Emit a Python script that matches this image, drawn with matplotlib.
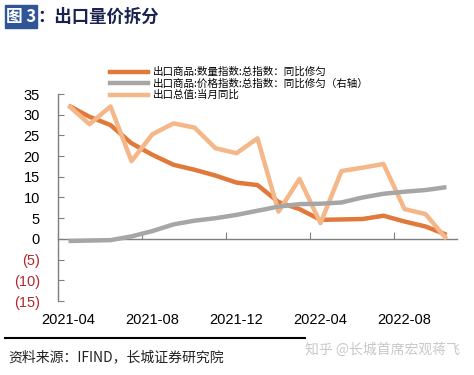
import matplotlib.pyplot as plt
from matplotlib.lines import Line2D
from matplotlib.patches import Rectangle

plt.rcParams['font.family'] = ['Liberation Sans', 'Noto Sans CJK SC', 'DejaVu Sans']

months = ['2021-04', '2021-05', '2021-06', '2021-07', '2021-08', '2021-09', '2021-10',
          '2021-11', '2021-12', '2022-01', '2022-02', '2022-03', '2022-04', '2022-05',
          '2022-06', '2022-07', '2022-08', '2022-09', '2022-10']
# 出口商品:数量指数
volume = [32.2, 29.5, 27.5, 23.1, 20.3, 17.9, 16.7, 15.3, 13.6, 13.0, 8.9, 7.2,
          4.6, 4.7, 4.8, 5.6, 4.2, 3.0, 1.0]
# 出口商品:价格指数 (右轴)
price = [-0.5, -0.4, -0.3, 0.6, 1.9, 3.5, 4.4, 5.0, 5.8, 6.8, 7.8, 8.4,
         8.5, 8.8, 10.0, 10.9, 11.4, 11.8, 12.5]
# 出口总值:当月同比
total = [32.2, 27.7, 32.0, 18.8, 25.3, 27.9, 26.9, 21.9, 20.7, 24.3, 6.6, 14.5,
         3.8, 16.4, 17.2, 18.1, 7.2, 6.0, 0.0]

labels = ['出口商品:数量指数:总指数：同比修匀',
          '出口商品:价格指数:总指数：同比修匀（右轴）',
          '出口总值:当月同比']
yticks = [35, 30, 25, 20, 15, 10, 5, 0, -5, -10, -15]

fig = plt.figure(figsize=(4.74, 3.75), dpi=100)
ax = fig.add_axes([58 / 474, 1 - 301 / 375, 399 / 474, 207 / 375])

x = list(range(len(months)))
c_vol = '#E0793A'
c_price = '#A6A6A6'
c_total = '#F5B688'
ax.plot(x, volume, color=c_vol, lw=3.2, solid_capstyle='butt', zorder=3)
ax.plot(x, total, color=c_total, lw=3.2, solid_capstyle='butt', zorder=4)
ax.plot(x, price, color=c_price, lw=3.2, solid_capstyle='butt', zorder=5)

ax.set_xlim(-0.5, len(months) - 0.5)
ax.set_ylim(-15, 35)
for s in ['top', 'right', 'bottom']:
    ax.spines[s].set_visible(False)
ax.spines['left'].set_color('#7f7f7f')
ax.spines['left'].set_linewidth(1)

ax.set_yticks(yticks)
ax.set_yticklabels([str(v) if v >= 0 else '(%d)' % -v for v in yticks], fontsize=10.5)
for t, v in zip(ax.get_yticklabels(), yticks):
    if v < 0:
        t.set_color('#B3282D')
ax.tick_params(axis='y', direction='in', length=4, color='#7f7f7f', pad=13)

ax.set_xticks(x[::4])
ax.set_xticklabels(months[::4], fontsize=10.5)
ax.tick_params(axis='x', length=0, pad=9)

# zero line axis with tick marks at category boundaries
sec = ax.secondary_xaxis(0, transform=ax.transData)
sec.spines['bottom'].set_color('#7f7f7f')
sec.spines['bottom'].set_linewidth(1)
sec.set_xticks([i - 0.5 for i in x[::4]])
sec.set_xticklabels([])
sec.tick_params(axis='x', direction='in', length=5, color='#7f7f7f')

handles = [Line2D([], [], color=c_vol, lw=3.2),
           Line2D([], [], color=c_price, lw=3.2),
           Line2D([], [], color=c_total, lw=3.2)]
fig.legend(handles, labels, loc='upper left', bbox_to_anchor=(110 / 474, 1 - 67 / 375),
           frameon=False, prop={'family': 'Noto Sans CJK SC', 'size': 7.6},
           handlelength=3.6, handletextpad=0.42, labelspacing=0.12, borderpad=0,
           borderaxespad=0)

# title
fig.patches.append(Rectangle((5 / 474, 1 - 28 / 375), 32 / 474, 23 / 375,
                             transform=fig.transFigure, color='#2F5597'))
fig.text(21 / 474, 1 - 17 / 375, '图 3', color='white', fontsize=12, fontweight='bold',
         family='Noto Sans CJK SC', ha='center', va='center')
fig.text(37 / 474, 1 - 17 / 375, '：出口量价拆分', color='#1A2350', fontsize=12.5,
         fontweight='bold', family='Noto Sans CJK SC', ha='left', va='center')

# footer
fig.add_artist(Line2D([5 / 474, 305 / 474], [1 - 338 / 375, 1 - 338 / 375],
                      transform=fig.transFigure, color='black', lw=1.5))
fig.text(8 / 474, 1 - 357 / 375, '资料来源：IFIND，长城证券研究院', fontsize=10,
         family='Noto Sans CJK SC', style='italic', color='#222222', va='center')
fig.text(305 / 474, 1 - 350 / 375, '知乎 @长城首席宏观蒋飞', fontsize=10,
         family='Noto Sans CJK SC', color='#C8C8C8', va='center')

fig.savefig('out.png', dpi=100)
